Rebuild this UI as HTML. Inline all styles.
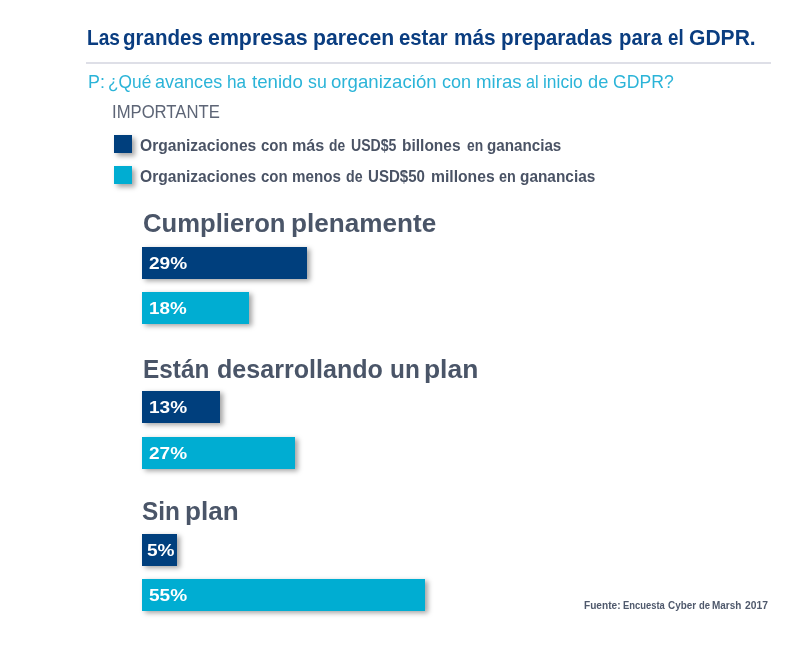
<!DOCTYPE html>
<html lang="es">
<head>
<meta charset="utf-8">
<title>GDPR</title>
<style>
html,body{margin:0;padding:0;background:#fff;}
body{width:800px;height:650px;position:relative;overflow:hidden;font-family:"Liberation Sans",sans-serif;}
.t{position:absolute;display:block;white-space:nowrap;line-height:1;margin:0;transform-origin:0 0;}
.line{margin:0;padding:0;}
.title{font-size:22px;font-weight:bold;color:#0a3d80;}
.sub{font-size:19px;color:#2bb4d8;}
.imp{font-size:18.5px;color:#5d6576;}
.leg{font-size:16px;font-weight:bold;color:#4a5365;}
.h{font-size:26px;font-weight:bold;color:#4a5568;}
.src{font-size:11px;font-weight:bold;color:#4f596c;}
#rule{position:absolute;left:86px;top:62px;width:685px;height:2px;background:#dedfe7;}
.sq{position:absolute;left:114px;width:18px;height:18px;box-shadow:3px 3px 5px rgba(0,0,0,.36);}
.navy{background:#003f7d;}
.cyan{background:#00add2;}
.bar{position:absolute;left:142px;height:32px;box-shadow:3px 2px 5px rgba(0,0,0,.36);}
.lab{font-size:17px;font-weight:bold;color:#fff;}
</style>
</head>
<body>
<div id="rule"></div>
<div class="sq navy" style="top:135px"></div>
<div class="sq cyan" style="top:166px"></div>

<div class="bar navy" style="top:247px;width:164.5px"></div>
<div class="bar cyan" style="top:292px;width:107px"></div>

<div class="bar navy" style="top:391px;width:78px"></div>
<div class="bar cyan" style="top:437px;width:153px"></div>

<div class="bar navy" style="top:534px;width:34.5px"></div>
<div class="bar cyan" style="top:579px;width:282.5px"></div>

<h1 class="line">
<span class="t title" style="left:86.83px;top:27px;transform:scaleX(0.8695)">Las</span>
<span class="t title" style="left:123.47px;top:27px;transform:scaleX(0.9324)">grandes</span>
<span class="t title" style="left:208.03px;top:27px;transform:scaleX(0.9708)">empresas</span>
<span class="t title" style="left:313.09px;top:27px;transform:scaleX(0.9627)">parecen</span>
<span class="t title" style="left:399.08px;top:27px;transform:scaleX(0.9241)">estar</span>
<span class="t title" style="left:453.72px;top:27px;transform:scaleX(0.9462)">más</span>
<span class="t title" style="left:501.12px;top:27px;transform:scaleX(0.9400)">preparadas</span>
<span class="t title" style="left:618.74px;top:27px;transform:scaleX(0.9250)">para</span>
<span class="t title" style="left:668.06px;top:27px;transform:scaleX(0.8500)">el</span>
<span class="t title" style="left:688.64px;top:27px;transform:scaleX(0.9575)">GDPR.</span>
</h1>
<p class="line">
<span class="t sub" style="left:88.03px;top:72px;transform:scaleX(0.9392)">P:</span>
<span class="t sub" style="left:108.01px;top:72px;transform:scaleX(0.9101)">¿Qué</span>
<span class="t sub" style="left:155.05px;top:72px;transform:scaleX(0.9493)">avances</span>
<span class="t sub" style="left:226.95px;top:72px;transform:scaleX(0.9073)">ha</span>
<span class="t sub" style="left:252.28px;top:72px;transform:scaleX(0.9828)">tenido</span>
<span class="t sub" style="left:308.29px;top:72px;transform:scaleX(0.9355)">su</span>
<span class="t sub" style="left:331.42px;top:72px;transform:scaleX(0.9801)">organización</span>
<span class="t sub" style="left:442.05px;top:72px;transform:scaleX(0.9505)">con</span>
<span class="t sub" style="left:475.88px;top:72px;transform:scaleX(0.9828)">miras</span>
<span class="t sub" style="left:525.81px;top:72px;transform:scaleX(0.8500)">al</span>
<span class="t sub" style="left:542.59px;top:72px;transform:scaleX(0.9167)">inicio</span>
<span class="t sub" style="left:588.22px;top:72px;transform:scaleX(0.9596)">de</span>
<span class="t sub" style="left:613.47px;top:72px;transform:scaleX(0.9275)">GDPR?</span>
</p>
<p class="line">
<span class="t imp" style="left:112.17px;top:103px;transform:scaleX(0.9013)">IMPORTANTE</span>
</p>
<p class="line">
<span class="t leg" style="left:140.36px;top:138px;transform:scaleX(0.9758)">Organizaciones</span>
<span class="t leg" style="left:261.06px;top:138px;transform:scaleX(0.9382)">con</span>
<span class="t leg" style="left:291.59px;top:138px;transform:scaleX(1.0095)">más</span>
<span class="t leg" style="left:329.48px;top:138px;transform:scaleX(0.8625)">de</span>
<span class="t leg" style="left:351.12px;top:138px;transform:scaleX(0.8800)">USD$5</span>
<span class="t leg" style="left:402.03px;top:138px;transform:scaleX(0.9692)">billones</span>
<span class="t leg" style="left:466.50px;top:138px;transform:scaleX(0.8634)">en</span>
<span class="t leg" style="left:487.42px;top:138px;transform:scaleX(0.9493)">ganancias</span>
</p>
<p class="line">
<span class="t leg" style="left:140.36px;top:169px;transform:scaleX(0.9758)">Organizaciones</span>
<span class="t leg" style="left:261.06px;top:169px;transform:scaleX(0.9382)">con</span>
<span class="t leg" style="left:291.65px;top:169px;transform:scaleX(0.9480)">menos</span>
<span class="t leg" style="left:346.06px;top:169px;transform:scaleX(0.8855)">de</span>
<span class="t leg" style="left:367.66px;top:169px;transform:scaleX(0.9413)">USD$50</span>
<span class="t leg" style="left:431.02px;top:169px;transform:scaleX(0.9809)">millones</span>
<span class="t leg" style="left:499.48px;top:169px;transform:scaleX(0.8980)">en</span>
<span class="t leg" style="left:520.41px;top:169px;transform:scaleX(0.9623)">ganancias</span>
</p>
<h2 class="line">
<span class="t h" style="left:142.61px;top:210px;transform:scaleX(0.9864)">Cumplieron</span>
<span class="t h" style="left:290.71px;top:210px;transform:scaleX(1.0048)">plenamente</span>
</h2>
<h2 class="line">
<span class="t h" style="left:143.43px;top:356px;transform:scaleX(0.9371)">Están</span>
<span class="t h" style="left:217.44px;top:356px;transform:scaleX(0.9650)">desarrollando</span>
<span class="t h" style="left:389.58px;top:356px;transform:scaleX(0.9372)">un</span>
<span class="t h" style="left:424.29px;top:356px;transform:scaleX(1.0149)">plan</span>
</h2>
<h2 class="line">
<span class="t h" style="left:142.06px;top:498px;transform:scaleX(0.9385)">Sin</span>
<span class="t h" style="left:185.31px;top:498px;transform:scaleX(1.0030)">plan</span>
</h2>
<p class="line">
<span class="t src" style="left:584.38px;top:600px;transform:scaleX(0.9193)">Fuente:</span>
<span class="t src" style="left:622.53px;top:600px;transform:scaleX(0.8546)">Encuesta</span>
<span class="t src" style="left:667.73px;top:600px;transform:scaleX(0.8990)">Cyber</span>
<span class="t src" style="left:698.66px;top:600px;transform:scaleX(0.8586)">de</span>
<span class="t src" style="left:712.29px;top:600px;transform:scaleX(0.9063)">Marsh</span>
<span class="t src" style="left:744.78px;top:600px;transform:scaleX(0.9363)">2017</span>
</p>
<div class="line">
<span class="t lab" style="left:148.95px;top:255px;transform:scaleX(1.1200)">29%</span>
</div>
<div class="line">
<span class="t lab" style="left:149.20px;top:300px;transform:scaleX(1.1042)">18%</span>
</div>
<div class="line">
<span class="t lab" style="left:149.18px;top:399px;transform:scaleX(1.1194)">13%</span>
</div>
<div class="line">
<span class="t lab" style="left:148.74px;top:445px;transform:scaleX(1.1176)">27%</span>
</div>
<div class="line">
<span class="t lab" style="left:147.21px;top:542px;transform:scaleX(1.1200)">5%</span>
</div>
<div class="line">
<span class="t lab" style="left:148.63px;top:587px;transform:scaleX(1.1200)">55%</span>
</div>
</body>
</html>
